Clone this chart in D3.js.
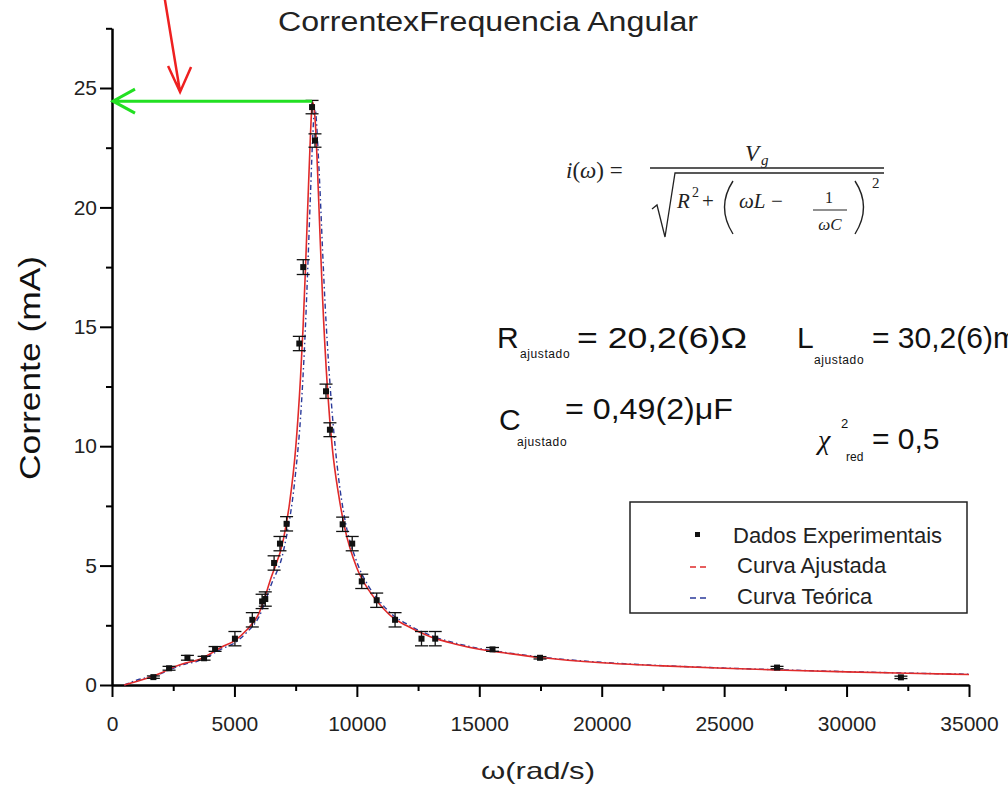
<!DOCTYPE html>
<html><head><meta charset="utf-8">
<script src="https://cdn.jsdelivr.net/npm/d3@7"></script>
<style>
html,body{margin:0;padding:0;background:#fff;}
svg{display:block;font-family:"Liberation Sans",Arial,sans-serif;}
</style></head><body>
<svg id="chart" width="1008" height="785"></svg>
<script>
const omega      = [1690, 2330, 3080, 3760, 4210, 5020, 5730, 6130, 6260, 6620, 6860, 7130, 7650, 7810, 8170, 8290, 8740, 8900, 9420, 9810, 10200, 10810, 11560, 12640, 13200, 15540, 17480, 27160, 32220];
const current    = [0.33, 0.70, 1.14, 1.12, 1.51, 1.94, 2.73, 3.50, 3.60, 5.11, 5.92, 6.75, 14.3, 17.5, 24.2, 22.8, 12.3, 10.69, 6.73, 5.92, 4.34, 3.55, 2.73, 1.94, 1.94, 1.49, 1.14, 0.73, 0.32];
const currentErr = [0.05, 0.08, 0.10, 0.08, 0.10, 0.30, 0.30, 0.30, 0.30, 0.30, 0.30, 0.30, 0.30, 0.31, 0.28, 0.28, 0.30, 0.29, 0.30, 0.30, 0.30, 0.30, 0.30, 0.30, 0.30, 0.08, 0.05, 0.05, 0.05];

// ---- fitted curve (Curva Ajustada) ----
const fitOmega   = [500, 1000, 1500, 2000, 2500, 3000, 3500, 4000, 4500, 5000, 5500, 6000, 6500, 7000, 7250, 7500, 7700, 7800, 7900, 8000, 8100, 8150, 8200, 8300, 8400, 8500, 8600, 8800, 9000, 9250, 9500, 10000, 10500, 11000, 11500, 12000, 13000, 14000, 15000, 16000, 17500, 20000, 22500, 25000, 27500, 30000, 32500, 35000];
const fitCurrent = [0.0, 0.15, 0.30, 0.50, 0.74, 0.92, 1.05, 1.30, 1.60, 1.85, 2.30, 3.00, 4.50, 6.10, 7.60, 9.90, 12.9, 14.9, 17.4, 20.2, 22.9, 24.0, 24.4, 23.6, 21.4, 18.7, 16.2, 12.4, 9.90, 8.00, 6.60, 4.90, 3.95, 3.30, 2.80, 2.50, 2.02, 1.72, 1.50, 1.35, 1.15, 0.93, 0.80, 0.70, 0.62, 0.55, 0.49, 0.44];

// ---- theoretical curve (Curva Teórica) ----
const theoOmega   = [500, 1000, 1500, 2000, 2500, 3000, 3500, 4000, 4500, 5000, 5500, 6000, 6500, 7000, 7500, 7700, 7800, 7900, 8000, 8100, 8200, 8250, 8300, 8350, 8400, 8500, 8600, 8700, 8800, 9000, 9250, 9500, 10000, 10500, 11000, 11500, 12000, 13000, 14000, 15000, 16000, 17500, 20000, 22500, 25000, 27500, 30000, 32500, 35000];
const theoCurrent = [0.0, 0.20, 0.33, 0.48, 0.70, 0.88, 1.00, 1.24, 1.52, 1.76, 2.20, 2.85, 4.20, 5.60, 8.90, 11.2, 12.9, 15.0, 17.6, 20.4, 23.0, 23.9, 24.1, 23.6, 22.7, 20.6, 18.2, 16.0, 14.2, 11.3, 8.70, 7.00, 5.15, 4.10, 3.42, 2.90, 2.58, 2.08, 1.76, 1.53, 1.37, 1.17, 0.95, 0.81, 0.71, 0.63, 0.56, 0.50, 0.45];

// ---- axes ticks ----
const xMajorTicks = [0, 5000, 10000, 15000, 20000, 25000, 30000, 35000];
const xMinorTicks = [2500, 7500, 12500, 17500, 22500, 27500, 32500];
const yMajorTicks = [0, 5, 10, 15, 20, 25];
const yMinorTicks = [2.5, 7.5, 12.5, 17.5, 22.5, 27.5];

// ---- annotation arrows (data units) ----
const peakArrow = {fromOmega: 8170, toOmega: 0, level: 24.45};
const redArrow  = {fromOmega: 2160, fromI: 28.7, toOmega: 2780, toI: 24.83};

const svg = d3.select("#chart");
const x = d3.scaleLinear().domain([0, 35000]).range([112, 969]);
const y = d3.scaleLinear().domain([0, 27.5]).range([685, 28.3]);

// title
svg.append("text").attr("x", 488).attr("y", 31).attr("text-anchor", "middle")
  .attr("font-size", 27).attr("fill", "#222").attr("textLength", 420).attr("lengthAdjust", "spacingAndGlyphs")
  .text("CorrentexFrequencia Angular");

// axes
const axisStyle = g => {
  g.selectAll("path.domain").attr("stroke", "#000").attr("stroke-width", 2);
  g.selectAll(".tick line").attr("stroke", "#000").attr("stroke-width", 2);
  g.selectAll(".tick text").attr("fill", "#222").attr("font-size", 21)
    .attr("font-family", '"Liberation Sans",Arial,sans-serif');
};
svg.append("g").attr("transform", "translate(0,685)")
  .call(d3.axisBottom(x).tickValues(xMinorTicks).tickSize(6).tickSizeOuter(0).tickFormat(""))
  .call(axisStyle);
svg.append("g").attr("transform", "translate(0,685)")
  .call(d3.axisBottom(x).tickValues(xMajorTicks).tickSize(12).tickSizeOuter(0).tickPadding(19).tickFormat(d3.format("d")))
  .call(axisStyle);
svg.append("g").attr("transform", "translate(112,0)")
  .call(d3.axisLeft(y).tickValues(yMinorTicks).tickSize(6).tickSizeOuter(0).tickFormat(""))
  .call(axisStyle);
svg.append("g").attr("transform", "translate(112,0)")
  .call(d3.axisLeft(y).tickValues(yMajorTicks).tickSize(12).tickSizeOuter(0).tickPadding(3).tickFormat(d3.format("d")))
  .call(axisStyle);

// axis titles
svg.append("text").attr("x", 538).attr("y", 779).attr("text-anchor", "middle")
  .attr("font-size", 24).attr("fill", "#222").attr("textLength", 114).attr("lengthAdjust", "spacingAndGlyphs")
  .text("\u03c9(rad/s)");
svg.append("text").attr("transform", "translate(40,368) rotate(-90)").attr("text-anchor", "middle")
  .attr("font-size", 30).attr("fill", "#111").attr("textLength", 224).attr("lengthAdjust", "spacingAndGlyphs")
  .text("Corrente (mA)");

// curves
const line = d3.line().x(d => x(d[0])).y(d => y(d[1])).curve(d3.curveMonotoneX);
svg.append("path").datum(theoOmega.map((w, i) => [w, theoCurrent[i]]))
  .attr("d", line).attr("fill", "none").attr("stroke", "#2a3a9a").attr("stroke-width", 1.4)
  .attr("stroke-dasharray", "5,3,1.5,3");
svg.append("path").datum(fitOmega.map((w, i) => [w, fitCurrent[i]]))
  .attr("d", line).attr("fill", "none").attr("stroke", "#e02a2a").attr("stroke-width", 1.6);

// error bars + points
const pts = omega.map((w, i) => ({w, c: current[i], e: currentErr[i]}));
const eb = svg.append("g").attr("stroke", "#111").attr("stroke-width", 1.3);
pts.forEach(p => {
  const cx = x(p.w), top = y(p.c + p.e), bot = y(p.c - p.e);
  eb.append("line").attr("x1", cx).attr("x2", cx).attr("y1", top).attr("y2", bot);
  eb.append("line").attr("x1", cx - 6.5).attr("x2", cx + 6.5).attr("y1", top).attr("y2", top);
  eb.append("line").attr("x1", cx - 6.5).attr("x2", cx + 6.5).attr("y1", bot).attr("y2", bot);
});
svg.append("g").selectAll("rect").data(pts).join("rect")
  .attr("x", d => x(d.w) - 3).attr("y", d => y(d.c) - 3).attr("width", 6).attr("height", 6).attr("fill", "#111");

// green arrow (peak -> axis)
const gy = y(peakArrow.level), gx0 = x(peakArrow.fromOmega), gx1 = x(peakArrow.toOmega) + 1;
svg.append("path").attr("d", `M${gx0},${gy}L${gx1},${gy}M${gx1 + 22},${gy - 12}L${gx1},${gy}L${gx1 + 22},${gy + 12}`)
  .attr("fill", "none").attr("stroke", "#22e022").attr("stroke-width", 3);
// red arrow
const rx0 = x(redArrow.fromOmega), ry0 = y(redArrow.fromI), rx1 = x(redArrow.toOmega), ry1 = y(redArrow.toI);
svg.append("path").attr("d", `M${rx0},${ry0}L${rx1},${ry1}M${rx1 - 12},${ry1 - 26}L${rx1},${ry1}L${rx1 + 11},${ry1 - 25}`)
  .attr("fill", "none").attr("stroke", "#ee2020").attr("stroke-width", 2.5);

// formula
const F = svg.append("g").attr("font-family", '"Liberation Serif","DejaVu Serif",serif').attr("fill", "#222");
const t1 = F.append("text").attr("x", 566).attr("y", 178).attr("font-size", 23);
t1.append("tspan").attr("font-style", "italic").text("i");
t1.append("tspan").text("(");
t1.append("tspan").attr("font-style", "italic").text("\u03c9");
t1.append("tspan").text(") =");
F.append("line").attr("x1", 650).attr("x2", 884).attr("y1", 168).attr("y2", 168).attr("stroke", "#222").attr("stroke-width", 1.3);
F.append("text").attr("x", 745).attr("y", 161).attr("font-size", 23).attr("font-style", "italic").text("V");
F.append("text").attr("x", 761).attr("y", 165).attr("font-size", 15).attr("font-style", "italic").text("g");
F.append("path").attr("d", "M652,209L657,205L665,237L675,173L884,173").attr("fill", "none").attr("stroke", "#222").attr("stroke-width", 1.3);
F.append("text").attr("x", 677).attr("y", 208).attr("font-size", 21).attr("font-style", "italic").text("R");
F.append("text").attr("x", 692).attr("y", 197).attr("font-size", 14).text("2");
F.append("text").attr("x", 702).attr("y", 208).attr("font-size", 21).text("+");
F.append("path").attr("d", "M733,181Q716,207 733,234").attr("fill", "none").attr("stroke", "#222").attr("stroke-width", 1.4);
F.append("text").attr("x", 739).attr("y", 208).attr("font-size", 21).attr("font-style", "italic").text("\u03c9L");
F.append("text").attr("x", 771).attr("y", 208).attr("font-size", 21).text("\u2212");
F.append("text").attr("x", 829).attr("y", 203).attr("font-size", 16).attr("text-anchor", "middle").text("1");
F.append("line").attr("x1", 813).attr("x2", 847).attr("y1", 210).attr("y2", 210).attr("stroke", "#222").attr("stroke-width", 1.1);
F.append("text").attr("x", 830).attr("y", 230).attr("font-size", 17).attr("text-anchor", "middle").attr("font-style", "italic").text("\u03c9C");
F.append("path").attr("d", "M855,181Q872,207 855,234").attr("fill", "none").attr("stroke", "#222").attr("stroke-width", 1.4);
F.append("text").attr("x", 872).attr("y", 188).attr("font-size", 15).text("2");

// fitted parameter annotations
const A = svg.append("g").attr("fill", "#111");
const big = 30, sub = 12;
A.append("text").attr("x", 497).attr("y", 348).attr("font-size", big).text("R");
A.append("text").attr("x", 520).attr("y", 358).attr("font-size", sub).attr("letter-spacing", 0.6).text("ajustado");
A.append("text").attr("x", 577).attr("y", 348).attr("font-size", big).attr("textLength", 170).attr("lengthAdjust", "spacingAndGlyphs").text("= 20,2(6)\u03a9");
A.append("text").attr("x", 797).attr("y", 348).attr("font-size", big).text("L");
A.append("text").attr("x", 814).attr("y", 364).attr("font-size", sub).attr("letter-spacing", 0.6).text("ajustado");
A.append("text").attr("x", 872).attr("y", 348).attr("font-size", big).text("= 30,2(6)mH");
A.append("text").attr("x", 499).attr("y", 430).attr("font-size", big).text("C");
A.append("text").attr("x", 517).attr("y", 446).attr("font-size", sub).attr("letter-spacing", 0.6).text("ajustado");
A.append("text").attr("x", 565).attr("y", 419).attr("font-size", big).attr("textLength", 168).attr("lengthAdjust", "spacingAndGlyphs").text("= 0,49(2)\u03bcF");
A.append("text").attr("x", 818).attr("y", 449).attr("font-size", 28).attr("font-family", '"Liberation Serif",serif').attr("font-style", "italic").text("\u03c7");
A.append("text").attr("x", 841).attr("y", 428).attr("font-size", 13).text("2");
A.append("text").attr("x", 846).attr("y", 461).attr("font-size", sub).text("red");
A.append("text").attr("x", 872).attr("y", 449).attr("font-size", big).text("= 0,5");

// legend
const L = svg.append("g");
L.append("rect").attr("x", 630).attr("y", 502).attr("width", 337).attr("height", 111)
  .attr("fill", "#fff").attr("stroke", "#222").attr("stroke-width", 1.5);
L.append("rect").attr("x", 695).attr("y", 532).attr("width", 5).attr("height", 5).attr("fill", "#111");
L.append("line").attr("x1", 690).attr("x2", 707).attr("y1", 567).attr("y2", 567).attr("stroke", "#e02a2a").attr("stroke-width", 1.3).attr("stroke-dasharray", "6,4");
L.append("line").attr("x1", 690).attr("x2", 707).attr("y1", 598).attr("y2", 598).attr("stroke", "#2a3a9a").attr("stroke-width", 1.3).attr("stroke-dasharray", "6,4");
const legendText = ["Dados Experimentais", "Curva Ajustada", "Curva Te\u00f3rica"];
const legendX = [733, 737, 737], legendY = [543, 573, 604];
legendText.forEach((t, i) => L.append("text").attr("x", legendX[i]).attr("y", legendY[i]).attr("font-size", 22).attr("fill", "#222").text(t));
</script>
</body></html>
